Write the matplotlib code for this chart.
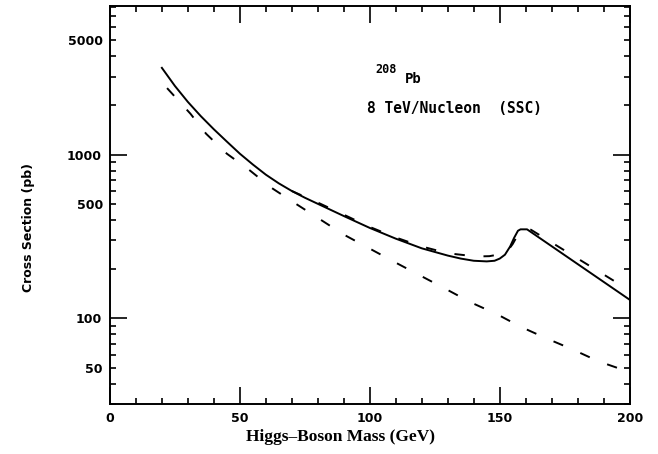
import numpy as np
import matplotlib
matplotlib.use("Agg")
import matplotlib.pyplot as plt
from matplotlib.ticker import FixedLocator, FuncFormatter, MultipleLocator

# Total cross section (solid)
mass_total = [20, 25, 30, 35, 40, 45, 50, 55, 60, 65, 70, 75, 80, 90, 100,
              110, 120, 130, 135, 140, 145, 148, 150, 152, 154, 155.5, 157,
              158, 160.5, 200]
xsec_total = [3390, 2630, 2100, 1718, 1429, 1202, 1014, 871, 755, 668, 600,
              546, 501, 422, 357, 307, 268, 242, 232, 225, 223, 225, 232,
              245, 275, 310, 343, 350, 350, 130]

# Upper dashed curve (close to the solid one)
mass_alt = [70, 80, 90, 100, 110, 120, 130, 141, 146, 151, 153, 155, 157,
            159, 162, 200]
xsec_alt = [600, 510, 430, 362, 312, 275, 250, 239, 240, 248, 258, 285, 325,
            345, 348, 148]

# Lower dashed curve
mass_low = [22, 31, 37, 45, 54, 62, 72, 90, 110, 129, 139, 149, 158, 168,
            178, 188, 200]
xsec_low = [2550, 1778, 1343, 1014, 798, 630, 496, 325, 219, 152, 125, 106,
            89, 75.5, 64.7, 54.7, 47]

y_labels = [50, 100, 500, 1000, 5000]


def main():
    plt.rcParams["lines.scale_dashes"] = False
    fig = plt.figure(figsize=(6.58, 4.54), dpi=100)
    ax = fig.add_axes([0.167, 0.110, 0.790, 0.877])

    dash = (0, (7.5, 13.5))
    ax.plot(mass_total, xsec_total, color="black", lw=1.4)
    ax.plot(mass_alt, xsec_alt, color="black", lw=1.4, ls=dash)
    ax.plot(mass_low, xsec_low, color="black", lw=1.4, ls=dash)

    ax.set_yscale("log")
    ax.set_xlim(0, 200)
    ax.set_ylim(30, 8100)

    # ticks
    ax.xaxis.set_major_locator(MultipleLocator(50))
    ax.xaxis.set_minor_locator(MultipleLocator(10))
    ax.yaxis.set_major_locator(FixedLocator([100, 1000]))
    minor = [m * 10 ** e for e in (1, 2, 3) for m in range(2, 10)]
    ax.yaxis.set_minor_locator(FixedLocator(minor))
    ax.yaxis.set_major_formatter(FuncFormatter(lambda v, p: f"{v:g}"))
    ax.yaxis.set_minor_formatter(
        FuncFormatter(lambda v, p: f"{v:g}" if round(v) in y_labels else ""))

    ax.tick_params(which="both", direction="in", top=True, right=True,
                   width=1.2, labelsize=9)
    ax.tick_params(which="major", length=12, pad=6)
    ax.tick_params(which="minor", length=4.3, pad=5)
    for lab in ax.get_xticklabels() + ax.get_yticklabels(which="both"):
        lab.set_fontweight("bold")
    for sp in ax.spines.values():
        sp.set_linewidth(1.4)

    fig.text(341 / 658, 1 - 437 / 454, "Higgs\u2013Boson Mass (GeV)",
             family="Liberation Serif", fontweight="bold", fontsize=12.5,
             ha="center", va="center")
    fig.text(0.043, 0.50, "Cross Section (pb)", rotation=90, fontsize=9,
             fontweight="bold", ha="center", va="center")

    ax.text(102, 3150, "208", family="DejaVu Sans Mono", fontweight="bold",
            fontsize=8.5, va="baseline")
    ax.text(113.5, 2750, "Pb", family="DejaVu Sans Mono", fontweight="bold",
            fontsize=10, va="baseline")
    ax.text(99, 1910, "8 TeV/Nucleon  (SSC)", family="DejaVu Sans Mono",
            fontweight="bold", fontsize=10.5, va="center")

    fig.savefig("out.png", dpi=100)
    plt.close(fig)


if __name__ == "__main__":
    main()
